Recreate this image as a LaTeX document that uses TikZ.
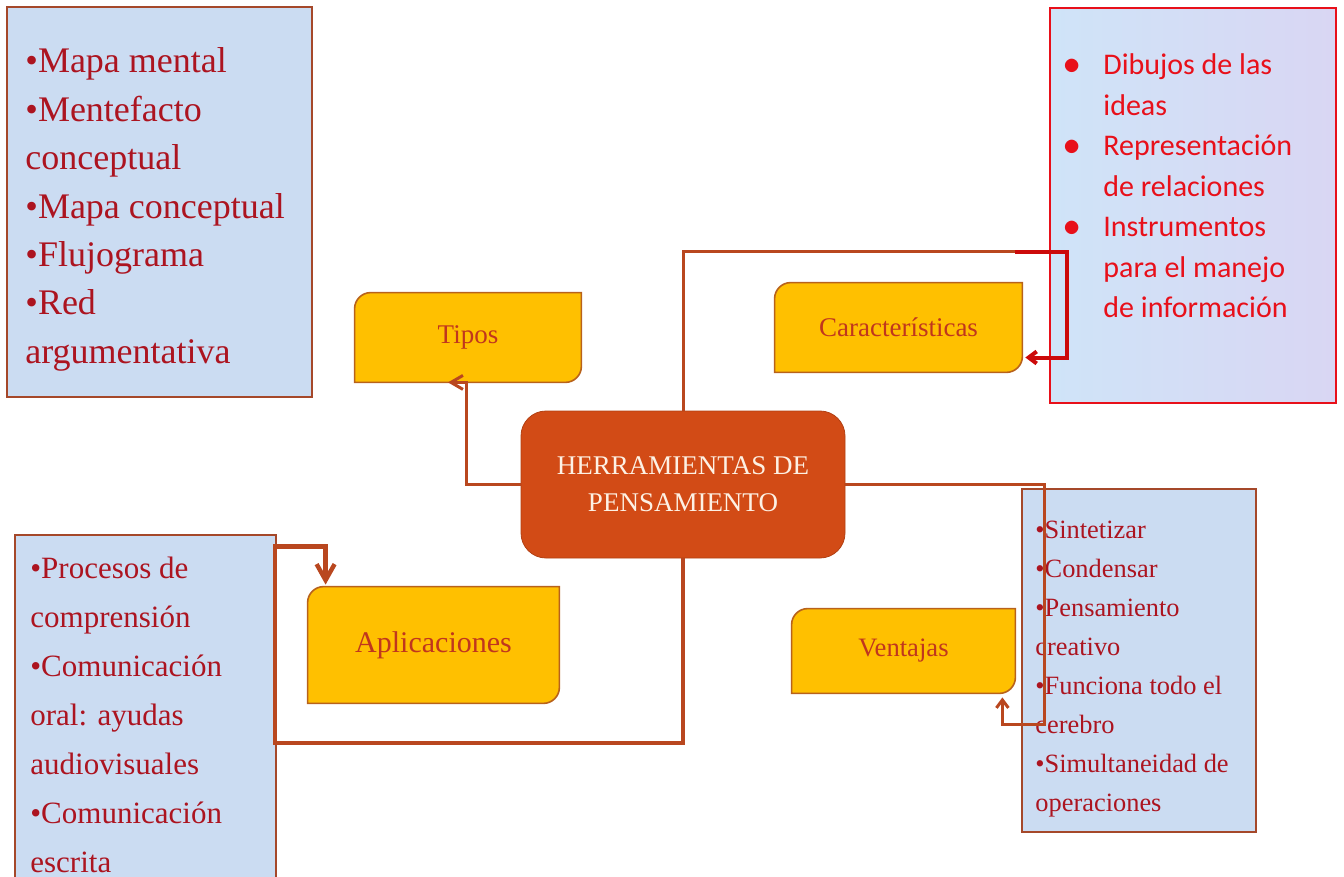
\documentclass[tikz,border=0pt]{standalone}
\usepackage{fontspec}
\setmainfont{Liberation Serif}
\newfontfamily\calibri{Carlito}
\usetikzlibrary{positioning,backgrounds,arrows.meta}

\definecolor{listblue}{HTML}{CBDCF2}
\definecolor{listedge}{HTML}{A5482A}
\definecolor{listred}{HTML}{AC1420}
\definecolor{brightred}{HTML}{E8101A}
\definecolor{paleblue}{HTML}{CFE4F8}
\definecolor{palelilac}{HTML}{D9D6F3}
\definecolor{boxyellow}{HTML}{FFC000}
\definecolor{boxedge}{HTML}{B8621B}
\definecolor{boxtext}{HTML}{C0361E}
\definecolor{hubfill}{HTML}{D24B16}
\definecolor{hubtext}{HTML}{FDF1E4}
\definecolor{linkbrown}{HTML}{B9471F}
\definecolor{linkred}{HTML}{CC0A0A}

\newcommand{\bigdot}{\makebox[20pt][l]{\fontsize{17}{17}\selectfont$\bullet$}}
\newcommand{\noindot}{\hspace*{20pt}}

\tikzset{
  listbox/.style={draw=listedge, line width=1pt, fill=listblue, inner sep=0pt},
  listtext/.style={anchor=base west, inner sep=0pt, text=listred},
  ybox/.style={inner sep=0pt, text=boxtext},
  yshape/.style={fill=boxyellow, draw=boxedge, line width=0.8pt},
  hub/.style={fill=hubfill, draw=hubfill!85!black, rounded corners=12.5pt, text=hubtext, align=center,
    minimum width=162pt, minimum height=73.5pt, font=\fontsize{13.5}{18.5}\selectfont},
  conn/.style={draw=linkbrown, line width=1.5pt},
  redlink/.style={draw=linkred, line width=2pt},
}

\begin{document}
\begin{tikzpicture}[x=0.5pt,y=-0.5pt]
\useasboundingbox (0,0) rectangle (1344,877);

% listas
\node[listbox, minimum width=152.5pt, minimum height=195pt] (tiposlist) at (159.5,202) {};
\node[listtext, font=\fontsize{18}{24.2}\selectfont] (tipostext) at (25,73)
  {\begin{tabular}[t]{@{}l@{}}•Mapa mental\\•Mentefacto\\conceptual\\•Mapa conceptual\\•Flujograma\\•Red\\argumentativa\end{tabular}};

\node[listbox, draw=brightred, left color=paleblue, right color=palelilac, minimum width=143pt, minimum height=197.5pt] (caraclist) at (1193,205.5) {};
\node[listtext, text=brightred, font=\calibri\fontsize{15}{20.25}\selectfont] (caractext) at (1063,75)
  {\begin{tabular}[t]{@{}l@{}}\bigdot Dibujos de las\\\noindot ideas\\\bigdot Representación\\\noindot de relaciones\\\bigdot Instrumentos\\\noindot para el manejo\\\noindot de información\end{tabular}};

\node[listbox, minimum width=130.5pt, minimum height=175pt] (aplilist) at (145.5,710) {};
\node[listtext, font=\fontsize{15.5}{24.5}\selectfont] (aplitext) at (30,578)
  {\begin{tabular}[t]{@{}l@{}}•Procesos de\\comprensión\\•Comunicación\\oral: ayudas\\audiovisuales\\•Comunicación\\escrita\end{tabular}};

\node[listbox, minimum width=117pt, minimum height=171.5pt] (ventlist) at (1139,660.5) {};
\node[listtext, font=\fontsize{13.2}{19.5}\selectfont] (venttext) at (1035,538)
  {\begin{tabular}[t]{@{}l@{}}•Sintetizar\\•Condensar\\•Pensamiento\\creativo\\•Funciona todo el\\cerebro\\•Simultaneidad de\\operaciones\end{tabular}};

% ramas
\node[ybox, minimum width=113pt, minimum height=44.5pt, font=\fontsize{13.5}{16}\selectfont] (tipos) at (468,337.5) {Tipos};
\node[ybox, minimum width=123.5pt, minimum height=44.5pt, font=\fontsize{13.5}{16}\selectfont] (carac) at (898.5,327.5) {Características};
\node[ybox, minimum width=125.5pt, minimum height=58pt, font=\fontsize{15}{18}\selectfont] (aplic) at (433.5,645) {Aplicaciones};
\node[ybox, minimum width=111.5pt, minimum height=42pt, font=\fontsize{13.3}{16}\selectfont] (venta) at (903.5,651) {Ventajas};

\begin{scope}[on background layer]
  \foreach \n in {tipos,carac,aplic,venta}
    \filldraw[yshape] (\n.south west) -- ([yshift=-8pt]\n.north west)
      .. controls ([yshift=-3.6pt]\n.north west) and ([xshift=3.6pt]\n.north west) .. ([xshift=8pt]\n.north west)
      -- (\n.north east) -- ([yshift=8pt]\n.south east)
      .. controls ([yshift=3.6pt]\n.south east) and ([xshift=-3.6pt]\n.south east) .. ([xshift=-8pt]\n.south east) -- cycle;
\end{scope}

\node[hub] (herr) at (683,484.5) {HERRAMIENTAS DE\\PENSAMIENTO};

% conectores
\coordinate (kjoin) at (1015,252);
\coordinate (vturn) at (1044,724);
\coordinate (aturn) at (275,743);

\draw[conn, -{Straight Barb[length=6pt,width=7pt]}] (herr.west) -| ([xshift=-1pt]tipos.south) -- ++(-18,0);
\draw[conn] (herr.north) |- (kjoin);
\draw[redlink, -{Straight Barb[length=4pt,width=6pt]}] (kjoin) -- ++(52,0) |- ([shift={(3,30)}]carac.east);
\draw[conn, -{Straight Barb[length=4pt,width=6pt]}] (herr.east) -| (vturn) -| ([shift={(-13,4)}]venta.south east);
\draw[conn, line width=2.2pt, -{Straight Barb[length=8pt,width=9pt]}] (herr.south) |- (aturn)
  |- ([shift={(18,-40)}]aplic.north west) -- ([shift={(18,-2)}]aplic.north west);
\end{tikzpicture}
\end{document}
